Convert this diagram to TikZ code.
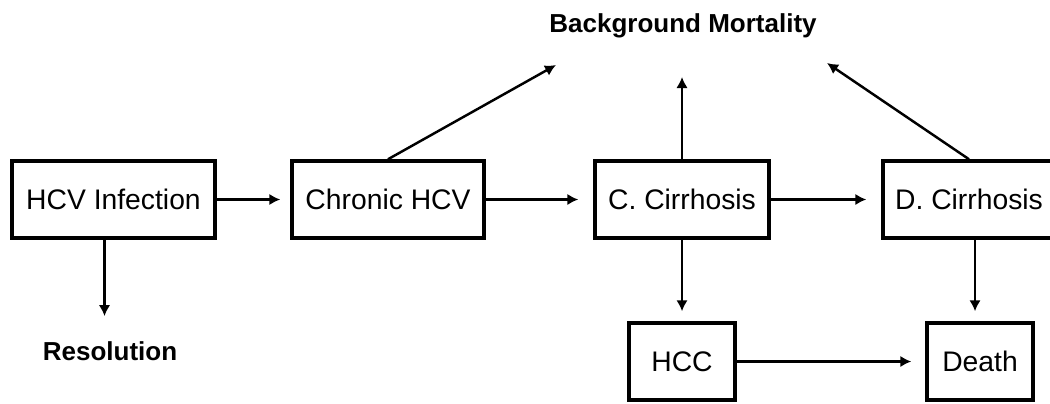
\documentclass[tikz,border=0pt]{standalone}
\usepackage{fontspec}
\setmainfont{Liberation Sans}
\usetikzlibrary{arrows.meta, positioning}
\tikzset{state/.style={draw, line width=2pt, minimum height=1.54cm, inner sep=0pt,
    font=\fontsize{16.1}{19}\selectfont},
  outcome/.style={inner sep=0pt, font=\bfseries\fontsize{14.8}{18}\selectfont},
  flow/.style={->, line width=1.4pt, shorten >=0.24cm}}

\begin{document}
\begin{tikzpicture}[x=0.02cm, y=-0.02cm, >={Latex[length=2.2mm,width=2.3mm]}]
    \useasboundingbox (0,0) rectangle (1050,403);

    % states
    \node[state, minimum width=4.06cm] (infection) at (113.5,199.5) {HCV Infection};
    \node[state, minimum width=3.84cm] (chronic) at (388,199.5) {Chronic HCV};
    \node[state, minimum width=3.48cm] (ccirr) at (682,199.5) {C. Cirrhosis};
    \node[state, minimum width=3.44cm] (dcirr) at (969,199.5) {D. Cirrhosis};
    \node[state, minimum width=2.12cm] (hcc) at (682,361.5) {HCC};
    \node[state, minimum width=2.12cm] (death) at (980,361.5) {Death};

    % outcomes
    \node[outcome] (bm) at (683,26) {Background Mortality};
    \node[outcome] (res) at (110,351) {Resolution};
    \coordinate (bm-l) at (556,65);
    \coordinate (bm-c) at (682,77);
    \coordinate (bm-r) at (827,63);

    \draw[flow, shorten >=0.2cm] (infection) -- (chronic);
    \draw[flow, shorten >=0.3cm] (chronic) -- (ccirr);
    \draw[flow, shorten >=0.3cm] (ccirr) -- (dcirr);
    \draw[flow, shorten >=0.28cm] (hcc) -- (death);

    \draw[flow, shorten >=0.2cm] (ccirr) -- (hcc);
    \draw[flow, shorten >=0.2cm] ([xshift=-0.1cm]death.north |- dcirr.south) -- ([xshift=-0.1cm]death.north);
    \draw[flow, shorten >=0.5cm] ([xshift=-0.18cm]infection.south) -- ([xshift=-0.18cm]infection.south |- res.north);

    \draw[flow, shorten >=0pt] (chronic.north) -- (bm-l);
    \draw[flow, shorten >=0pt] (ccirr.north) -- (bm-c);
    \draw[flow, shorten >=0pt] (dcirr.north) -- (bm-r);
\end{tikzpicture}
\end{document}
